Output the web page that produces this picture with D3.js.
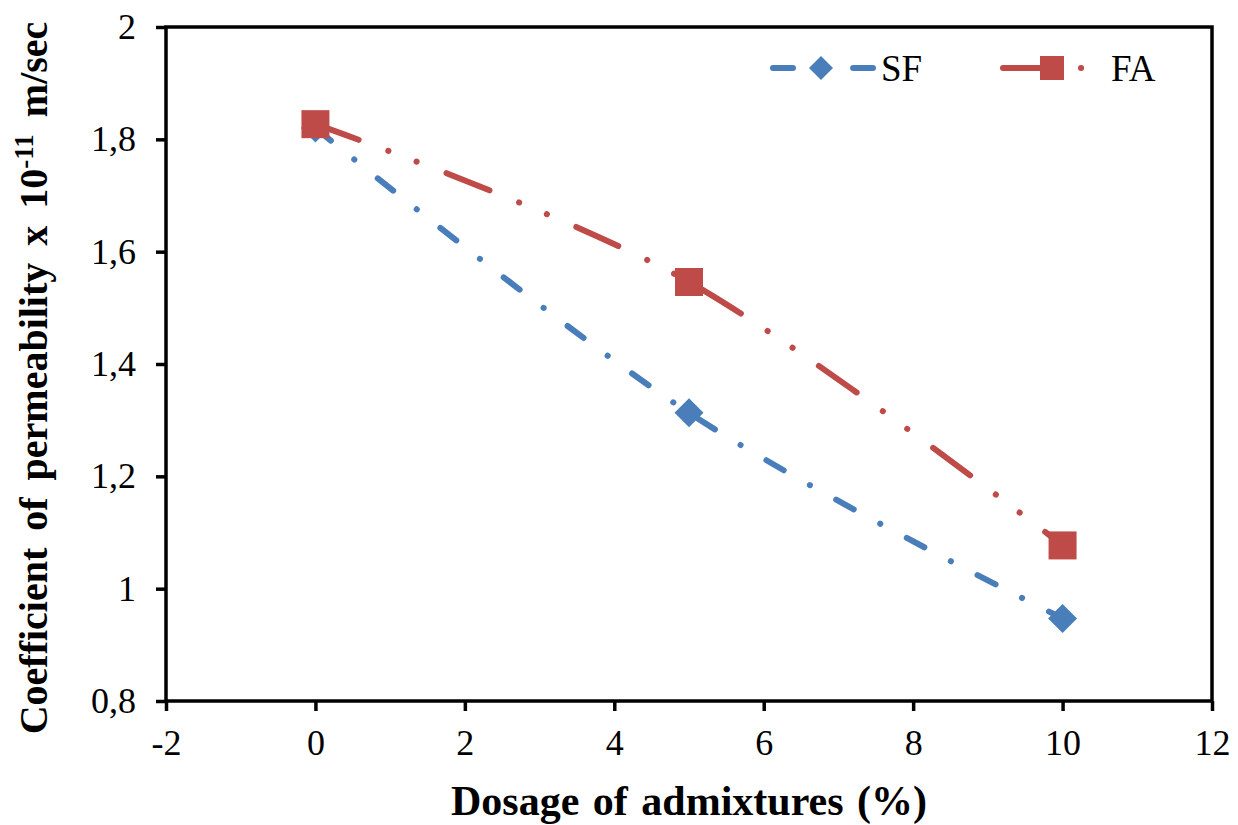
<!DOCTYPE html>
<html><head><meta charset="utf-8">
<script src="https://cdn.jsdelivr.net/npm/d3@7"></script>
<style>body{margin:0;background:#fff}svg{display:block}</style>
</head><body>
<script>
const dosage = [0, 5, 10];
const sfValues = [1.82, 1.313, 0.947];
const faValues = [1.827, 1.546, 1.077];
const seriesNames = ["SF", "FA"];
const xTicks = [-2, 0, 2, 4, 6, 8, 10, 12];
const yTicks = [0.8, 1, 1.2, 1.4, 1.6, 1.8, 2];

const W = 1238, H = 825;
const svg = d3.select("body").append("svg").attr("width", W).attr("height", H);
const x = d3.scaleLinear().domain([-2, 12]).range([166, 1212]);
const y = d3.scaleLinear().domain([0.8, 2]).range([701, 27]);
const serif = "'Liberation Serif','Times New Roman',serif";
const fmt = d => String(d).replace(".", ",");

// frame
svg.append("rect").attr("x", x(-2)).attr("y", y(2)).attr("width", x(12) - x(-2)).attr("height", y(0.8) - y(2))
  .attr("fill", "none").attr("stroke", "#000").attr("stroke-width", 3.5);

const yAxis = svg.append("g").attr("transform", `translate(${x(-2)},0)`)
  .call(d3.axisLeft(y).tickValues(yTicks).tickFormat(fmt).tickSize(10).tickPadding(20));
const xAxis = svg.append("g").attr("transform", `translate(0,${y(0.8)})`)
  .call(d3.axisBottom(x).tickValues(xTicks).tickFormat(d => String(d)).tickSize(10).tickPadding(18));
[yAxis, xAxis].forEach(g => {
  g.select(".domain").remove();
  g.selectAll(".tick line").attr("stroke", "#000").attr("stroke-width", 3.5);
  g.selectAll(".tick text").attr("fill", "#000").style("font-family", serif).style("font-size", "36px");
});

const line = d3.line().x(d => x(d[0])).y(d => y(d[1])).curve(d3.curveCatmullRom.alpha(0));
const sfData = dosage.map((d, i) => [d, sfValues[i]]);
const faData = dosage.map((d, i) => [d, faValues[i]]);
const blue = "#4a7ebb", red = "#be4b48";
const sfDash = "20 30 0.1 30", faDash = "46 32 0.1 30 0.1 32";

svg.append("path").datum(sfData).attr("d", line).attr("fill", "none").attr("stroke", blue)
  .attr("stroke-width", 6).attr("stroke-linecap", "round").attr("stroke-dasharray", sfDash);
svg.append("path").datum(faData).attr("d", line).attr("fill", "none").attr("stroke", red)
  .attr("stroke-width", 6).attr("stroke-linecap", "round").attr("stroke-dasharray", faDash);

const diamond = s => `M0,${-s/2}L${s/2},0L0,${s/2}L${-s/2},0Z`;
svg.selectAll(".sf").data(sfData).enter().append("path")
  .attr("transform", d => `translate(${x(d[0])},${y(d[1])})`).attr("d", diamond(29)).attr("fill", blue);
svg.selectAll(".fa").data(faData).enter().append("rect")
  .attr("x", d => x(d[0]) - 14).attr("y", d => y(d[1]) - 14).attr("width", 28).attr("height", 28).attr("fill", red);

// legend
const lg = svg.append("g");
lg.append("path").attr("d", "M773,68L873,68").attr("stroke", blue).attr("stroke-width", 6)
  .attr("stroke-linecap", "round").attr("stroke-dasharray", sfDash).attr("fill", "none");
lg.append("path").attr("transform", "translate(821,68)").attr("d", diamond(24)).attr("fill", blue);
lg.append("text").attr("x", 881).attr("y", 81).text(seriesNames[0])
  .style("font-family", serif).style("font-size", "37px").attr("fill", "#000");
lg.append("path").attr("d", "M1003,68L1103,68").attr("stroke", red).attr("stroke-width", 6)
  .attr("stroke-linecap", "round").attr("stroke-dasharray", faDash).attr("fill", "none");
lg.append("rect").attr("x", 1040).attr("y", 56).attr("width", 24).attr("height", 24).attr("fill", red);
lg.append("text").attr("x", 1111).attr("y", 81).text(seriesNames[1])
  .style("font-family", serif).style("font-size", "37px").attr("fill", "#000");

// axis titles
svg.append("text").attr("x", 689).attr("y", 815).attr("text-anchor", "middle")
  .style("font-family", serif).style("font-size", "42px").style("font-weight", "bold").attr("fill", "#000")
  .style("word-spacing", "3px")
  .text("Dosage of admixtures (%)");
const yt = svg.append("text").attr("transform", "translate(47,378) rotate(-90)").attr("text-anchor", "middle")
  .style("font-family", serif).style("font-size", "40px").style("font-weight", "bold").attr("fill", "#000")
  .style("word-spacing", "7px");
yt.append("tspan").text("Coefficient of permeability x 10");
yt.append("tspan").attr("dy", -14).style("font-size", "27px").text("-11");
yt.append("tspan").attr("dy", 14).text(" m/sec");
</script>
</body></html>
